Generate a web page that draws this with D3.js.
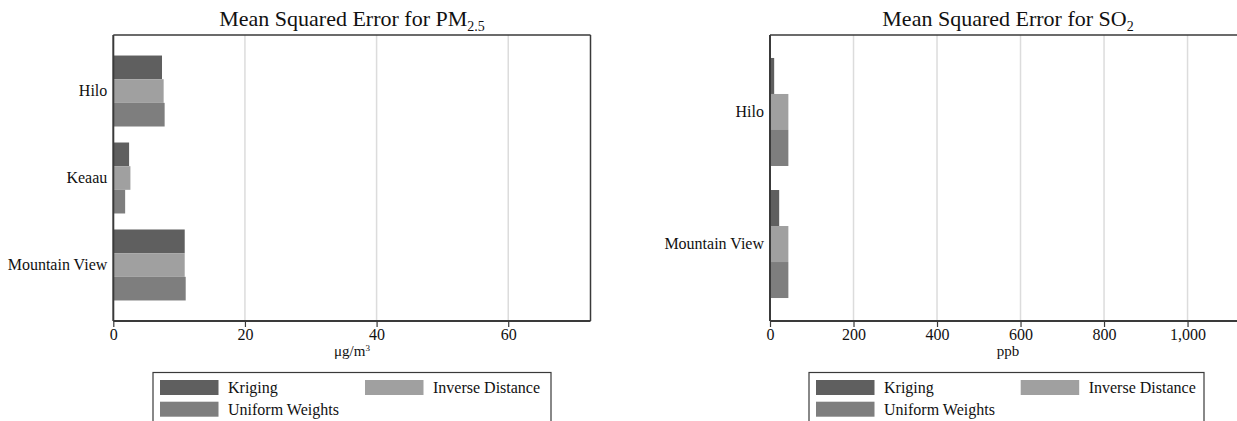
<!DOCTYPE html>
<html>
<head>
<meta charset="utf-8">
<script src="https://cdn.jsdelivr.net/npm/d3@7"></script>
<style>
  html, body { margin: 0; padding: 0; background: #fff; }
  svg { display: block; }
  svg text { font-family: "Liberation Serif", "Times New Roman", serif !important; }
</style>
</head>
<body>
<svg id="chart" width="1237" height="421"></svg>
<script>
// Methods compared, in drawing order within each site group
const methods = ["Kriging", "Inverse Distance", "Uniform Weights"];
const methodColors = ["#5f5f5f", "#a0a0a0", "#7e7e7e"];

// PM2.5 panel
const pmSites = ["Hilo", "Keaau", "Mountain View"];
const pmKriging = [7.4, 2.4, 10.85];
const pmInverse = [7.65, 2.6, 10.85];
const pmUniform = [7.8, 1.8, 11.0];
const pmTicks = [0, 20, 40, 60];

// SO2 panel
const so2Sites = ["Hilo", "Mountain View"];
const so2Kriging = [10, 22];
const so2Inverse = [44, 44];
const so2Uniform = [44, 44];
const so2Ticks = [0, 200, 400, 600, 800, 1000];

const svg = d3.select("#chart");
const axisColor = "#3a3a3a";
const gridColor = "#dcdcdc";
const textColor = "#111";

function drawPanel(cfg) {
  const g = svg.append("g");
  const x = d3.scaleLinear().domain([0, cfg.xMax]).range([cfg.left, cfg.right]);
  const y = d3.scaleBand().domain(cfg.sites).range([cfg.top, cfg.bottom])
    .paddingInner(cfg.padInner).paddingOuter(cfg.padOuter);
  const ySub = d3.scaleBand().domain(methods).range([0, y.bandwidth()]);
  const series = [cfg.kriging, cfg.inverse, cfg.uniform];

  // grid lines
  g.append("g").selectAll("line")
    .data(cfg.ticks.filter(t => t > 0))
    .join("line")
    .attr("x1", d => x(d)).attr("x2", d => x(d))
    .attr("y1", cfg.top).attr("y2", cfg.bottom)
    .attr("stroke", gridColor).attr("stroke-width", 1.5);

  // bars
  methods.forEach((m, mi) => {
    g.append("g").selectAll("rect")
      .data(cfg.sites.map((s, i) => ({ site: s, value: series[mi][i] })))
      .join("rect")
      .attr("x", x(0))
      .attr("y", d => y(d.site) + ySub(m))
      .attr("width", d => x(d.value) - x(0))
      .attr("height", ySub.bandwidth())
      .attr("fill", methodColors[mi]);
  });

  // frame: top and right borders
  g.append("line")
    .attr("x1", cfg.left).attr("x2", cfg.right)
    .attr("y1", cfg.top).attr("y2", cfg.top)
    .attr("stroke", axisColor).attr("stroke-width", 1.5);
  g.append("line")
    .attr("x1", cfg.right).attr("x2", cfg.right)
    .attr("y1", cfg.top).attr("y2", cfg.bottom)
    .attr("stroke", axisColor).attr("stroke-width", 1.5);

  // x axis
  const xAxis = d3.axisBottom(x).tickValues(cfg.ticks)
    .tickFormat(d3.format(",")).tickSizeInner(6).tickSizeOuter(0).tickPadding(2);
  const xa = g.append("g").attr("transform", `translate(0,${cfg.bottom})`).call(xAxis);
  xa.select(".domain").attr("stroke", axisColor).attr("stroke-width", 2)
    .attr("d", `M${cfg.left},0H${cfg.right}`);
  xa.selectAll(".tick line").attr("stroke", axisColor).attr("stroke-width", 1.2);
  xa.selectAll(".tick text").attr("font-size", 16).attr("fill", textColor);

  // y axis
  const yAxis = d3.axisLeft(y).tickSize(0).tickPadding(6);
  const ya = g.append("g").attr("transform", `translate(${cfg.left},0)`).call(yAxis);
  ya.select(".domain").attr("stroke", axisColor).attr("stroke-width", 2)
    .attr("d", `M0,${cfg.top}V${cfg.bottom}`);
  ya.selectAll(".tick text").attr("font-size", 16).attr("fill", textColor);

  // title with subscript
  const title = g.append("text")
    .attr("x", cfg.titleX).attr("y", 26)
    .attr("text-anchor", "middle")
    .attr("font-size", 22).attr("fill", textColor);
  title.append("tspan").text(cfg.titleMain);
  title.append("tspan").attr("font-size", 14).attr("dy", 5).text(cfg.titleSub);

  // axis title
  const at = g.append("text")
    .attr("x", cfg.axisTitleX).attr("y", 356)
    .attr("text-anchor", "middle")
    .attr("font-size", 15).attr("fill", textColor);
  at.append("tspan").text(cfg.unitMain);
  if (cfg.unitSup) {
    at.append("tspan").attr("font-size", 9).attr("dy", -5).text(cfg.unitSup);
  }

  // legend
  const lg = g.append("g");
  lg.append("rect")
    .attr("x", cfg.legX).attr("y", 372.5)
    .attr("width", cfg.legW).attr("height", 80)
    .attr("fill", "#fff").attr("stroke", axisColor).attr("stroke-width", 1.2);
  const legPos = [
    { sx: cfg.legX + 7, ty: 380, tx: cfg.legX + 75 },
    { sx: cfg.legX + cfg.legCol2, ty: 380, tx: cfg.legX + cfg.legCol2 + 68 },
    { sx: cfg.legX + 7, ty: 401.7, tx: cfg.legX + 75 }
  ];
  methods.forEach((m, i) => {
    const p = legPos[i];
    lg.append("rect")
      .attr("x", p.sx).attr("y", p.ty)
      .attr("width", 58.5).attr("height", 15)
      .attr("fill", methodColors[i]);
    lg.append("text")
      .attr("x", p.tx).attr("y", p.ty + 13)
      .attr("font-size", 16).attr("fill", textColor)
      .text(m);
  });
}

drawPanel({
  sites: pmSites, kriging: pmKriging, inverse: pmInverse, uniform: pmUniform,
  ticks: pmTicks, xMax: 72.5,
  left: 113.3, right: 590.5, top: 35, bottom: 321,
  padInner: 0.184, padOuter: 0.236,
  titleMain: "Mean Squared Error for PM", titleSub: "2.5", titleX: 352,
  unitMain: "μg/m", unitSup: "3", axisTitleX: 352,
  legX: 153, legW: 398, legCol2: 212
});

drawPanel({
  sites: so2Sites, kriging: so2Kriging, inverse: so2Inverse, uniform: so2Uniform,
  ticks: so2Ticks, xMax: 1140,
  left: 770, right: 1246, top: 35, bottom: 321,
  padInner: 0.182, padOuter: 0.174,
  titleMain: "Mean Squared Error for SO", titleSub: "2", titleX: 1008,
  unitMain: "ppb", unitSup: null, axisTitleX: 1008,
  legX: 809, legW: 395, legCol2: 211.7
});
</script>
</body>
</html>
